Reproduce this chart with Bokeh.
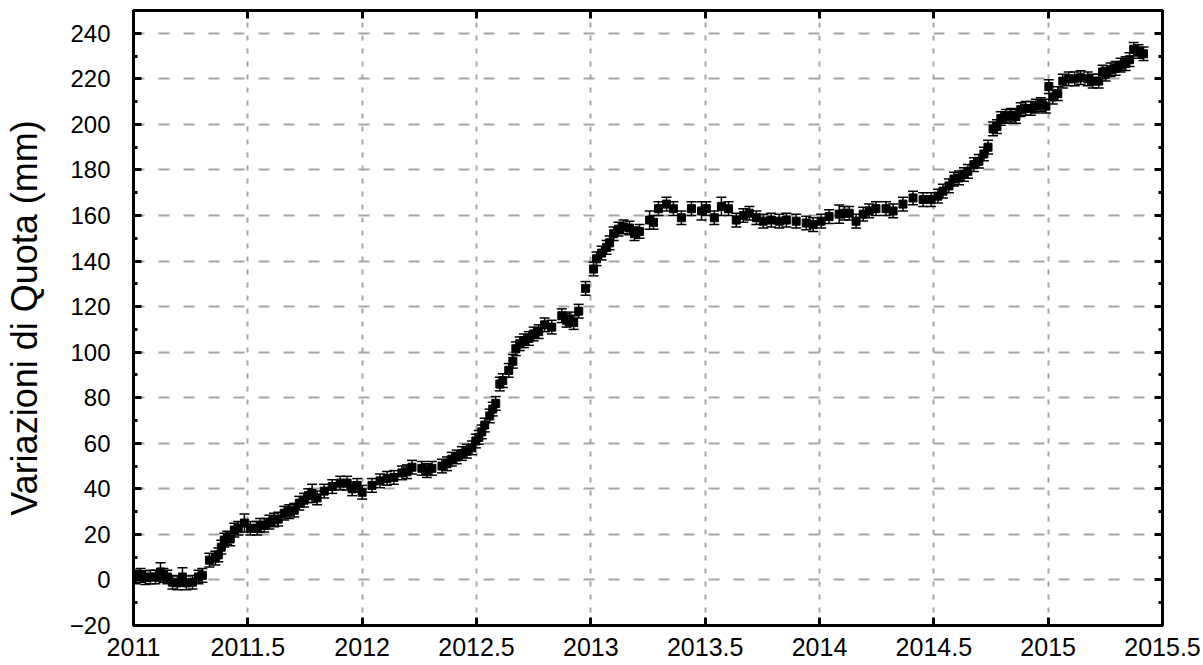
from bokeh.plotting import figure
from bokeh.models import (ColumnDataSource, Whisker, TeeHead, LinearAxis, FixedTicker, Range1d)
from bokeh.embed import file_html
from bokeh.resources import INLINE

# ---- data ----
years = [
    2011.009, 2011.031, 2011.052, 2011.074, 2011.096, 2011.118, 2011.131, 2011.148, 2011.170, 2011.192,
    2011.214, 2011.231, 2011.258, 2011.284, 2011.301, 2011.332, 2011.358, 2011.371, 2011.384, 2011.397,
    2011.410, 2011.423, 2011.441, 2011.458, 2011.485, 2011.511, 2011.541, 2011.554, 2011.572, 2011.594,
    2011.615, 2011.633, 2011.659, 2011.681, 2011.703, 2011.725, 2011.746, 2011.764, 2011.781, 2011.803,
    2011.834, 2011.869, 2011.904, 2011.934, 2011.956, 2011.978, 2012.000, 2012.043, 2012.078, 2012.109,
    2012.139, 2012.174, 2012.196, 2012.218, 2012.261, 2012.283, 2012.305, 2012.349, 2012.371, 2012.392,
    2012.414, 2012.436, 2012.458, 2012.480, 2012.497, 2012.510, 2012.523, 2012.536, 2012.558, 2012.571,
    2012.584, 2012.602, 2012.615, 2012.641, 2012.659, 2012.672, 2012.689, 2012.707, 2012.729, 2012.750,
    2012.772, 2012.798, 2012.829, 2012.873, 2012.894, 2012.907, 2012.925, 2012.947, 2012.977, 2013.012,
    2013.025, 2013.047, 2013.069, 2013.082, 2013.100, 2013.121, 2013.143, 2013.169, 2013.191, 2013.213,
    2013.257, 2013.274, 2013.296, 2013.331, 2013.361, 2013.396, 2013.440, 2013.484, 2013.505, 2013.540,
    2013.571, 2013.602, 2013.636, 2013.667, 2013.693, 2013.724, 2013.754, 2013.789, 2013.824, 2013.855,
    2013.898, 2013.942, 2013.972, 2014.007, 2014.042, 2014.086, 2014.108, 2014.130, 2014.160, 2014.191,
    2014.217, 2014.247, 2014.291, 2014.322, 2014.365, 2014.409, 2014.453, 2014.488, 2014.518, 2014.540,
    2014.566, 2014.588, 2014.610, 2014.632, 2014.649, 2014.675, 2014.697, 2014.719, 2014.737, 2014.759,
    2014.776, 2014.793, 2014.815, 2014.837, 2014.859, 2014.880, 2014.902, 2014.924, 2014.946, 2014.968,
    2014.990, 2015.003, 2015.020, 2015.042, 2015.064, 2015.090, 2015.116, 2015.142, 2015.173, 2015.195,
    2015.221, 2015.238, 2015.251, 2015.273, 2015.295, 2015.317, 2015.339, 2015.356, 2015.374, 2015.395,
    2015.417,
]
quota_mm = [
    1.3, 2.0, 1.0, 1.3, 1.3, 3.5, 2.0, 1.3, -1.0, -1.3,
    1.3, -1.3, -1.0, 1.3, 2.0, 8.7, 9.6, 11.0, 14.4, 17.5,
    18.4, 18.0, 21.9, 22.7, 25.0, 22.7, 22.7, 24.0, 24.0, 25.4,
    26.3, 26.7, 29.3, 30.0, 30.6, 33.7, 35.0, 37.0, 38.0, 36.0,
    39.0, 41.0, 42.5, 42.5, 40.0, 41.5, 38.5, 41.5, 43.5, 44.6,
    45.0, 47.0, 47.5, 49.5, 49.0, 48.0, 49.0, 50.0, 51.0, 53.0,
    54.0, 55.5, 56.5, 58.0, 61.0, 62.6, 65.0, 68.0, 72.0, 75.0,
    77.5, 86.0, 87.5, 92.0, 96.0, 101.5, 103.7, 105.0, 106.0, 108.0,
    109.0, 112.0, 111.0, 116.0, 114.0, 114.6, 113.0, 118.0, 128.0, 136.5,
    141.0, 143.5, 146.0, 148.0, 152.0, 154.0, 155.0, 154.5, 152.0, 153.0,
    158.0, 157.0, 163.0, 165.0, 163.0, 159.0, 163.0, 162.0, 163.0, 159.0,
    164.0, 163.0, 158.0, 160.0, 161.0, 159.0, 157.5, 158.0, 157.5, 158.0,
    157.5, 156.7, 156.0, 157.5, 159.5, 160.6, 161.0, 161.0, 157.5, 160.6,
    162.0, 163.0, 163.0, 162.0, 165.0, 167.7, 167.0, 167.0, 168.5, 170.7,
    173.0, 176.0, 176.5, 178.0, 179.4, 182.3, 183.8, 187.0, 190.0, 198.0,
    199.0, 202.6, 203.5, 204.0, 203.5, 206.5, 207.0, 207.0, 208.0, 208.7,
    208.0, 216.6, 212.0, 213.5, 219.0, 220.0, 220.0, 220.5, 220.0, 219.0,
    219.0, 223.0, 222.0, 224.0, 224.6, 226.0, 226.7, 228.4, 233.0, 232.0,
    231.0,
]
err_mm = [
    3, 3, 3, 3, 3, 4, 3, 3, 3, 3,
    4, 3, 3, 3, 3, 3, 3, 3, 3, 3,
    3, 3, 3, 3, 4, 3, 3, 3, 3, 3,
    3, 3, 3, 3, 3, 3, 3, 3, 4, 3,
    3, 3, 3, 3, 3, 3, 3, 3, 3, 3,
    3, 3, 3, 3, 3, 3, 3, 3, 3, 3,
    3, 3, 3, 3, 3, 3, 3, 3, 3, 3,
    3, 3, 3, 3, 3, 3, 3, 3, 3, 3,
    3, 3, 3, 3, 3, 3, 3, 3, 3, 3,
    3, 3, 3, 3, 3, 3, 3, 3, 3, 3,
    4, 3, 3, 3, 3, 3, 3, 4, 3, 3,
    4, 3, 3, 3, 3, 3, 3, 3, 3, 3,
    3, 3, 3, 3, 3, 4, 3, 3, 3, 3,
    3, 3, 3, 3, 3, 3, 3, 3, 3, 3,
    3, 3, 3, 3, 3, 3, 3, 3, 3, 3,
    3, 3, 3, 3, 3, 3, 3, 3, 3, 3,
    3, 3, 3, 3, 3, 3, 3, 3, 3, 3,
    3, 3, 3, 3, 3, 3, 3, 3, 3, 3,
    3,
]
x_ticks = [2011, 2011.5, 2012, 2012.5, 2013, 2013.5, 2014, 2014.5, 2015, 2015.5]
x_tick_labels = ["2011", "2011.5", "2012", "2012.5", "2013", "2013.5", "2014", "2014.5", "2015", "2015.5"]
y_ticks = [-20, 0, 20, 40, 60, 80, 100, 120, 140, 160, 180, 200, 220, 240]
y_minor_ticks = [-10, 10, 30, 50, 70, 90, 110, 130, 150, 170, 190, 210, 230]
y_label = "Variazioni di Quota (mm)"

n = min(len(years), len(quota_mm), len(err_mm))
src = ColumnDataSource(data=dict(
    x=years[:n], y=quota_mm[:n],
    upper=[quota_mm[i] + err_mm[i] for i in range(n)],
    lower=[quota_mm[i] - err_mm[i] for i in range(n)],
))

FONT = "Liberation Sans"

# Bokeh's page template has no body margin: the figure fills the 1203x665 window
p = figure(width=1203, height=665, output_backend="svg", toolbar_location=None,
           x_range=Range1d(2011, 2015.5), y_range=Range1d(-20, 250),
           min_border_left=131, min_border_right=41, min_border_top=10, min_border_bottom=40)
p.background_fill_color = "white"
p.border_fill_color = "white"
p.outline_line_color = "black"
p.outline_line_width = 3

def style_axis(ax, ticks, labels=True):
    ax.axis_line_color = None
    ax.major_tick_in = 8
    ax.major_tick_out = 0
    ax.major_tick_line_width = 3
    ax.major_tick_line_color = "black"
    ax.minor_tick_in = 4
    ax.minor_tick_out = 0
    ax.minor_tick_line_width = 3
    ax.minor_tick_line_color = "black"
    ax.major_label_text_font = FONT
    ax.major_label_text_color = "black"
    if not labels:
        ax.major_label_overrides = {t: "" for t in ticks}
        ax.major_label_text_font_size = "1px"
        ax.major_label_standoff = 0

xt = FixedTicker(ticks=x_ticks, minor_ticks=[])
yt = FixedTicker(ticks=y_ticks, minor_ticks=y_minor_ticks)

xa = p.xaxis[0]
xa.ticker = xt
xa.major_label_overrides = {t: s for t, s in zip(x_ticks, x_tick_labels)}
style_axis(xa, x_ticks)
xa.major_label_text_font_size = "25px"
xa.major_label_standoff = 12

ya = p.yaxis[0]
ya.ticker = yt
style_axis(ya, y_ticks)
ya.major_label_text_font_size = "24px"
ya.major_label_standoff = 23
ya.axis_label = y_label
ya.axis_label_text_font = FONT
ya.axis_label_text_font_size = "36px"
ya.axis_label_text_font_style = "normal"
ya.axis_label_text_color = "black"
ya.axis_label_standoff = 22

top = LinearAxis(ticker=FixedTicker(ticks=x_ticks, minor_ticks=[]))
style_axis(top, x_ticks, labels=False)
p.add_layout(top, "above")
right = LinearAxis(ticker=FixedTicker(ticks=y_ticks, minor_ticks=y_minor_ticks))
style_axis(right, y_ticks, labels=False)
p.add_layout(right, "right")

p.xgrid.ticker = xt
p.ygrid.ticker = yt
p.xgrid.grid_line_color = "#a6a6a6"
p.xgrid.grid_line_width = 2
p.xgrid.grid_line_dash = "5 8"
p.ygrid.grid_line_color = "#a6a6a6"
p.ygrid.grid_line_width = 2
p.ygrid.grid_line_dash = "11 14"

w = Whisker(source=src, base="x", upper="upper", lower="lower", dimension="height",
            line_color="black", line_width=1.5,
            upper_head=TeeHead(size=10, line_color="black", line_width=1.5),
            lower_head=TeeHead(size=10, line_color="black", line_width=1.5))
p.add_layout(w)
p.scatter("x", "y", source=src, marker="square", size=8, color="black")

open("out.html", "w").write(file_html(p, INLINE))
